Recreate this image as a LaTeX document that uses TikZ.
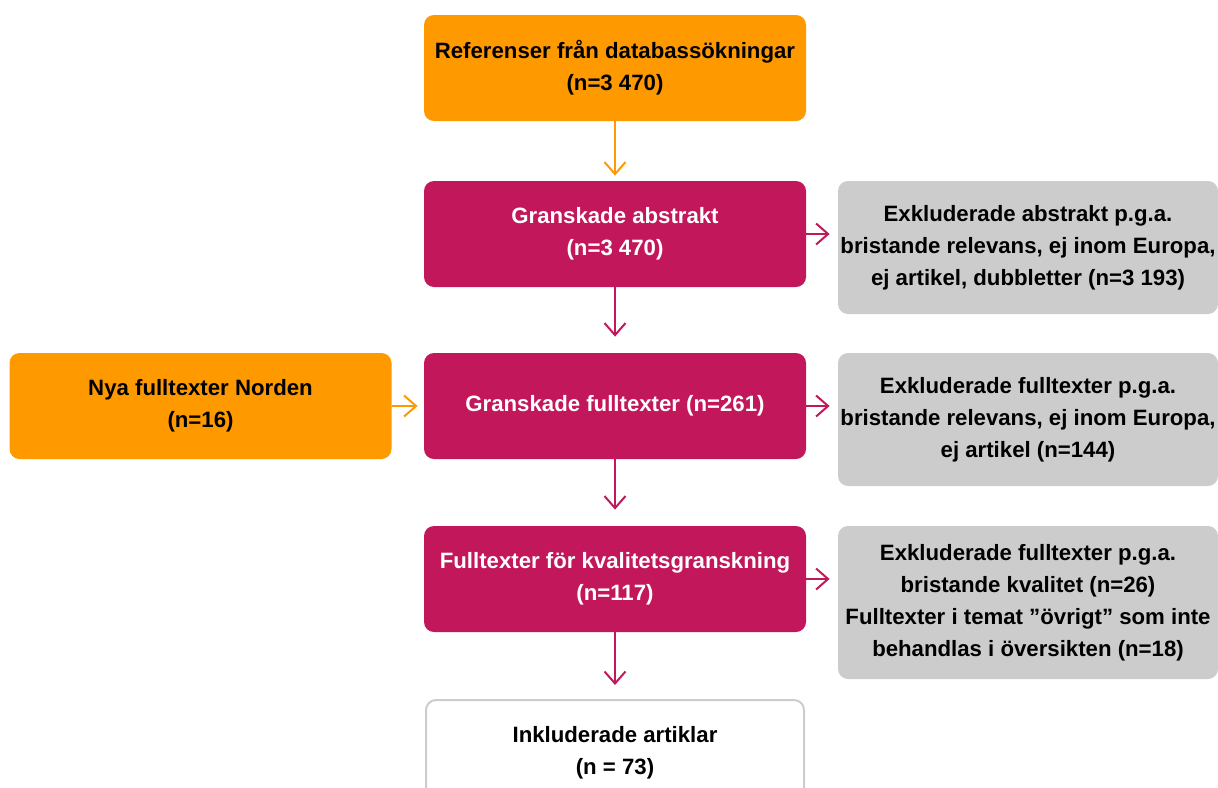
\documentclass[tikz,border=0pt]{standalone}
\usepackage{fontspec}
\setmainfont{Liberation Sans}
\usetikzlibrary{arrows.meta}
\definecolor{flodeorange}{HTML}{FF9900}
\definecolor{flodemagenta}{HTML}{C2185B}
\definecolor{flodegrey}{HTML}{CCCCCC}

\begin{document}
\begin{tikzpicture}[x=0.5pt, y=-0.5pt,
    box/.style={rounded corners=5pt, minimum width=191pt, minimum height=53pt,
        align=center, inner sep=1pt, font=\bfseries\fontsize{11.1}{16}\selectfont},
    orangebox/.style={box, fill=flodeorange, text=black},
    pinkbox/.style={box, fill=flodemagenta, text=white},
    greybox/.style={box, fill=flodegrey, text=black, minimum width=190pt},
    whitebox/.style={box, draw=flodegrey, line width=1pt, fill=white, minimum width=189pt},
    arr/.style={line width=1pt, -{Straight Barb[length=6pt, width=10.5pt]}}
]
    \clip (0,0) rectangle (1218,787);

    % Nodes
    \node[orangebox] (databas) at (615,68) {Referenser från databassökningar\\(n=3 470)};
    \node[pinkbox] (abstrakt) at (615,234) {Granskade abstrakt\\(n=3 470)};
    \node[greybox, minimum height=66.5pt] (exabstrakt) at (1028,247.5)
        {Exkluderade abstrakt p.g.a.\\bristande relevans, ej inom Europa,\\ej artikel, dubbletter (n=3 193)};
    \node[orangebox] (norden) at (200.5,406) {Nya fulltexter Norden\\(n=16)};
    \node[pinkbox] (fulltext) at (615,406) {Granskade fulltexter (n=261)};
    \node[greybox, minimum height=66.5pt] (exfulltext) at (1028,419.5)
        {Exkluderade fulltexter p.g.a.\\bristande relevans, ej inom Europa,\\ej artikel (n=144)};
    \node[pinkbox] (kvalitet) at (615,579) {Fulltexter för kvalitetsgranskning\\(n=117)};
    \node[greybox, minimum height=76.5pt] (exkvalitet) at (1028,602.5)
        {Exkluderade fulltexter p.g.a.\\bristande kvalitet (n=26)\\Fulltexter i temat ”övrigt” som inte\\behandlas i översikten (n=18)};
    \node[whitebox] (inkluderade) at (615,753) {Inkluderade artiklar\\(n = 73)};

    % Arrows
    \draw[arr, flodeorange, shorten >=2.5pt] (databas) -- (abstrakt);
    \draw[arr, flodemagenta, shorten >=8pt] (abstrakt) -- (fulltext);
    \draw[arr, flodemagenta, shorten >=8pt] (fulltext) -- (kvalitet);
    \draw[arr, flodemagenta, shorten >=7pt] (kvalitet) -- (inkluderade);
    \draw[arr, flodeorange, shorten >=3pt] (norden) -- (fulltext);
    \draw[arr, flodemagenta, shorten >=4pt] (abstrakt.east) -- (abstrakt.east -| exabstrakt.west);
    \draw[arr, flodemagenta, shorten >=4pt] (fulltext.east) -- (fulltext.east -| exfulltext.west);
    \draw[arr, flodemagenta, shorten >=4pt] (kvalitet.east) -- (kvalitet.east -| exkvalitet.west);
\end{tikzpicture}
\end{document}
